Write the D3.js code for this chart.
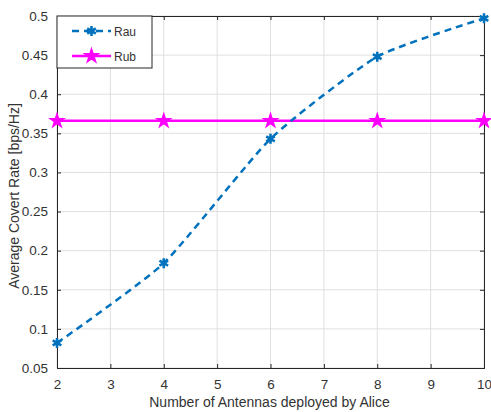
<!DOCTYPE html>
<html lang="en">
<head>
    <meta charset="UTF-8">
    <title>Covert Rate</title>
    <script src="https://cdn.jsdelivr.net/npm/d3@7"></script>
    <style>
        body { margin: 0; background: #fff; }
        text { font-family: "Liberation Sans", Arial, sans-serif; fill: #333; }
        .grid line { stroke: #dfdfdf; stroke-width: 1; }
        .axis path, .axis line { stroke: #262626; }
    </style>
</head>
<body>
<svg width="491" height="412"></svg>
<script>
    // data
    var antennas = [2, 4, 6, 8, 10];
    var rau = [0.082, 0.184, 0.343, 0.448, 0.497];
    var rub = [0.366, 0.366, 0.366, 0.366, 0.366];
    var xTicks = [2, 3, 4, 5, 6, 7, 8, 9, 10];
    var yTicks = [0.05, 0.1, 0.15, 0.2, 0.25, 0.3, 0.35, 0.4, 0.45, 0.5];

    var svg = d3.select("svg");
    var pLeft = 57, pRight = 484, pTop = 16, pBottom = 368;

    var x = d3.scaleLinear().domain([2, 10]).range([pLeft, pRight]);
    var y = d3.scaleLinear().domain([0.05, 0.5]).range([pBottom, pTop]);

    // grid
    var grid = svg.append("g").attr("class", "grid");
    grid.selectAll("line.gx").data(xTicks).enter().append("line")
        .attr("x1", function (d) { return x(d); })
        .attr("x2", function (d) { return x(d); })
        .attr("y1", pTop).attr("y2", pBottom);
    grid.selectAll("line.gy").data(yTicks).enter().append("line")
        .attr("y1", function (d) { return y(d); })
        .attr("y2", function (d) { return y(d); })
        .attr("x1", pLeft).attr("x2", pRight);

    // axes, ticks inside
    var fmt = function (d) { return String(+d.toFixed(2)); };
    svg.append("g").attr("class", "axis")
        .attr("transform", "translate(0," + pBottom + ")")
        .call(d3.axisBottom(x).tickValues(xTicks).tickSize(-4).tickPadding(11).tickFormat(fmt))
        .call(function (g) { g.selectAll("text").attr("font-size", 13.5); });
    svg.append("g").attr("class", "axis")
        .attr("transform", "translate(0," + pTop + ")")
        .call(d3.axisTop(x).tickValues(xTicks).tickSize(-4).tickFormat(""));
    svg.append("g").attr("class", "axis")
        .attr("transform", "translate(" + pLeft + ",0)")
        .call(d3.axisLeft(y).tickValues(yTicks).tickSize(-4).tickPadding(9).tickFormat(fmt))
        .call(function (g) { g.selectAll("text").attr("font-size", 13.5); });
    svg.append("g").attr("class", "axis")
        .attr("transform", "translate(" + pRight + ",0)")
        .call(d3.axisRight(y).tickValues(yTicks).tickSize(-4).tickFormat(""));
    svg.selectAll(".axis .domain").attr("stroke-width", 1);

    // axis labels
    svg.append("text")
        .attr("x", (pLeft + pRight) / 2 - 1).attr("y", 407)
        .attr("text-anchor", "middle").attr("font-size", 14)
        .text("Number of Antennas deployed by Alice");
    svg.append("text")
        .attr("transform", "translate(19," + ((pTop + pBottom) / 2 + 4) + ") rotate(-90)")
        .attr("text-anchor", "middle").attr("font-size", 14)
        .text("Average Covert Rate [bps/Hz]");

    var blue = "#0072BD", magenta = "#FF00FF";
    var star = d3.symbol().type(d3.symbolStar).size(55);
    var asterisk = d3.symbol().type(d3.symbolAsterisk).size(70);

    // Rub
    svg.append("path")
        .datum(antennas)
        .attr("fill", "none").attr("stroke", magenta).attr("stroke-width", 2.5)
        .attr("d", d3.line()
            .x(function (d) { return x(d); })
            .y(function (d, i) { return y(rub[i]); }));
    svg.selectAll("path.rubm").data(antennas).enter().append("path")
        .attr("class", "rubm")
        .attr("transform", function (d, i) { return "translate(" + x(d) + "," + y(rub[i]) + ")"; })
        .attr("d", star)
        .attr("fill", magenta).attr("stroke", magenta).attr("stroke-width", 1.5);

    // Rau
    svg.append("path")
        .datum(antennas)
        .attr("fill", "none").attr("stroke", blue).attr("stroke-width", 2.5)
        .attr("stroke-dasharray", "7,5")
        .attr("d", d3.line()
            .curve(d3.curveCardinal.tension(0.45))
            .x(function (d) { return x(d); })
            .y(function (d, i) { return y(rau[i]); }));
    svg.selectAll("path.raum").data(antennas).enter().append("path")
        .attr("class", "raum")
        .attr("transform", function (d, i) { return "translate(" + x(d) + "," + y(rau[i]) + ")"; })
        .attr("d", asterisk)
        .attr("fill", blue).attr("stroke", blue).attr("stroke-width", 2.6);

    // legend
    var lg = svg.append("g");
    lg.append("rect")
        .attr("x", pLeft).attr("y", pTop).attr("width", 95).attr("height", 52)
        .attr("fill", "#fff").attr("stroke", "#262626").attr("stroke-width", 1);
    var items = [
        {name: "Rau", color: blue, dash: "7,5", w: 2.5, sym: asterisk, sw: 2.6},
        {name: "Rub", color: magenta, dash: null, w: 2.5, sym: star, sw: 1.5}
    ];
    items.forEach(function (it, i) {
        var yy = pTop + 15 + i * 25;
        lg.append("line")
            .attr("x1", 72).attr("x2", 111).attr("y1", yy).attr("y2", yy)
            .attr("stroke", it.color).attr("stroke-width", it.w)
            .attr("stroke-dasharray", it.dash);
        lg.append("path")
            .attr("transform", "translate(91.5," + yy + ")")
            .attr("d", it.sym)
            .attr("fill", it.color).attr("stroke", it.color).attr("stroke-width", it.sw);
        lg.append("text")
            .attr("x", 114).attr("y", yy + 4.5).attr("font-size", 12)
            .text(it.name);
    });
</script>
</body>
</html>
